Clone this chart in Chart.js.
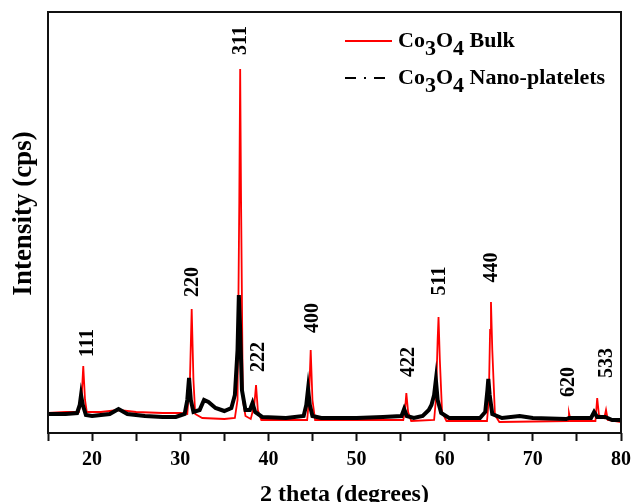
<!DOCTYPE html>
<html>
<head>
<meta charset="utf-8">
<script src="https://cdn.jsdelivr.net/npm/chart.js@4.4.1/dist/chart.umd.min.js"></script>
<style>
  html, body { margin: 0; padding: 0; background: #ffffff; }
  #wrap { width: 632px; height: 502px; position: relative; }
</style>
</head>
<body>
<div id="wrap"><canvas id="c" width="632" height="502"></canvas></div>
<script>
// ---- data (2 theta in degrees, intensity in arbitrary cps units) ----
const bulkTheta = [15, 17, 18.5, 18.8, 19.0, 19.2, 19.4, 21, 23, 25, 28, 30, 30.8, 31.1, 31.3, 31.5, 31.7, 32.5, 35, 36.2, 36.5, 36.7, 36.8, 36.9, 37.1, 37.4, 38, 38.4, 38.6, 38.8, 39.2, 44.4, 44.6, 44.8, 45.0, 45.3, 55.3, 55.5, 55.65, 55.85, 56.2, 58.8, 59.0, 59.2, 59.3, 59.45, 59.7, 60.2, 64.8, 65.0, 65.15, 65.25, 65.4, 65.7, 66.2, 74.0, 74.1, 74.3, 77.1, 77.3, 77.5, 78.1, 78.3, 78.5, 80];
const bulkCps   = [200, 210, 210, 330, 670, 330, 210, 210, 230, 210, 200, 200, 190, 530, 1240, 530, 190, 150, 140, 150, 330, 2330, 3640, 2330, 330, 170, 140, 280, 480, 230, 130, 130, 330, 830, 330, 130, 130, 230, 400, 210, 120, 130, 330, 930, 1160, 730, 210, 120, 120, 330, 1030, 1310, 830, 180, 110, 120, 200, 120, 120, 350, 180, 150, 230, 130, 110];

const nanoTheta = [15, 17, 18.3, 18.6, 18.75, 18.95, 19.3, 20, 22, 23.0, 24, 26, 28, 29.5, 30.5, 30.8, 31.0, 31.2, 31.5, 32.2, 32.7, 33.2, 34, 35, 35.8, 36.2, 36.5, 36.65, 36.8, 37.0, 37.4, 37.9, 38.2, 38.5, 39.3, 42, 44.0, 44.3, 44.5, 44.7, 45.0, 46, 50, 53, 55.1, 55.4, 55.7, 56.5, 57.5, 58.2, 58.5, 58.8, 59.0, 59.2, 59.6, 60.5, 64.0, 64.6, 64.85, 64.95, 65.1, 65.4, 66.5, 68.5, 70, 73.8, 74.1, 76.6, 76.95, 77.3, 78.2, 79, 80];
const nanoCps   = [190, 190, 200, 280, 380, 280, 180, 170, 190, 240, 190, 170, 160, 160, 190, 330, 550, 330, 210, 230, 330, 310, 250, 220, 250, 380, 830, 1380, 1030, 430, 230, 230, 300, 210, 160, 150, 170, 280, 440, 280, 170, 150, 150, 160, 170, 240, 170, 150, 170, 230, 280, 380, 530, 330, 200, 150, 150, 210, 430, 540, 380, 190, 150, 170, 150, 140, 150, 150, 210, 160, 160, 130, 130];

const seriesNames = ['Bulk', 'Nano-platelets'];

// Miller indices and where their labels sit (2 theta, intensity)
const peakLabels = ['111', '220', '311', '222', '400', '422', '511', '440', '620', '533'];
const peakLabelTheta = [19.48, 31.45, 36.85, 38.94, 45.06, 55.95, 59.47, 65.33, 74.10, 78.41];
const peakLabelCps   = [900, 1510, 3925, 760, 1150, 710, 1520, 1655, 510, 700];

const xTicksMajor = [20, 30, 40, 50, 60, 70, 80];

const SERIF = '"Liberation Serif", "Times New Roman", Times, serif';

function toPoints(xs, ys) { return xs.map((x, i) => ({ x: x, y: ys[i] })); }

const decorPlugin = {
  id: 'decor',
  afterDraw(chart) {
    const ctx = chart.ctx;
    const a = chart.chartArea;
    const xs = chart.scales.x, ys = chart.scales.y;
    ctx.save();
    // frame
    ctx.strokeStyle = '#111';
    ctx.lineWidth = 2;
    ctx.strokeRect(a.left, a.top, a.right - a.left, a.bottom - a.top);

    // peak labels
    ctx.fillStyle = '#000';
    ctx.font = 'bold 20px ' + SERIF;
    ctx.textAlign = 'center';
    ctx.textBaseline = 'middle';
    peakLabels.forEach((t, i) => {
      const px = xs.getPixelForValue(peakLabelTheta[i]);
      const py = ys.getPixelForValue(peakLabelCps[i]);
      ctx.save();
      ctx.translate(px, py);
      ctx.rotate(-Math.PI / 2);
      ctx.fillText(t, 0, 0);
      ctx.restore();
    });

    // axis titles
    ctx.font = 'bold 24px ' + SERIF;
    ctx.textAlign = 'center';
    ctx.textBaseline = 'alphabetic';
    ctx.fillText('2 theta (degrees)', (a.left + a.right) / 2 + 10, 501);
    ctx.save();
    ctx.font = 'bold 27px ' + SERIF;
    ctx.translate(30.5, (a.top + a.bottom) / 2 - 9);
    ctx.rotate(-Math.PI / 2);
    ctx.fillText('Intensity (cps)', 0, 0);
    ctx.restore();

    // legend
    const rows = [
      { name: seriesNames[0], color: '#ff0000', dash: [], lineY: 41, base: 47 },
      { name: seriesNames[1], color: '#000000', dash: [11, 8, 2, 8], lineY: 78, base: 84 }
    ];
    rows.forEach(r => {
      ctx.save();
      ctx.strokeStyle = r.color;
      ctx.lineWidth = 2;
      ctx.setLineDash(r.dash);
      ctx.beginPath();
      ctx.moveTo(345, r.lineY);
      ctx.lineTo(392, r.lineY);
      ctx.stroke();
      ctx.restore();
      ctx.fillStyle = '#000';
      ctx.font = 'bold 22px ' + SERIF;
      ctx.textAlign = 'left';
      ctx.textBaseline = 'alphabetic';
      let x = 398;
      const parts = [['Co', 0], ['3', 8], ['O', 0], ['4', 8], [' ' + r.name, 0]];
      parts.forEach(p => {
        ctx.fillText(p[0], x, r.base + p[1]);
        x += ctx.measureText(p[0]).width;
      });
    });
    ctx.restore();
  }
};

new Chart(document.getElementById('c'), {
  type: 'line',
  data: {
    datasets: [
      {
        label: 'Co3O4 ' + seriesNames[0],
        data: toPoints(bulkTheta, bulkCps),
        borderColor: '#ff0000',
        borderWidth: 1.8,
        pointRadius: 0,
        tension: 0,
        order: 2
      },
      {
        label: 'Co3O4 ' + seriesNames[1],
        data: toPoints(nanoTheta, nanoCps),
        borderColor: '#000000',
        borderWidth: 4,
        pointRadius: 0,
        tension: 0,
        order: 1
      }
    ]
  },
  options: {
    responsive: false,
    animation: false,
    events: [],
    layout: { padding: { top: 12, right: 11, left: 0, bottom: 0 } },
    plugins: { legend: { display: false }, tooltip: { enabled: false } },
    scales: {
      x: {
        type: 'linear',
        min: 15, max: 80,
        border: { display: false },
        grid: { display: true, drawOnChartArea: false, drawTicks: true, tickLength: 8, tickWidth: 2, tickColor: '#111' },
        ticks: {
          stepSize: 5,
          autoSkip: false,
          maxRotation: 0,
          padding: 7,
          color: '#000',
          font: { family: SERIF, size: 20, weight: 'bold' },
          callback: (v) => xTicksMajor.includes(v) ? String(v) : ''
        },
        afterFit: (s) => { s.height = 69; s.paddingLeft = 0; s.paddingRight = 0; }
      },
      y: {
        type: 'linear',
        min: 0, max: 4210,
        border: { display: false },
        grid: { display: false },
        ticks: { display: false },
        afterFit: (s) => { s.width = 48; s.paddingTop = 0; s.paddingBottom = 0; }
      }
    }
  },
  plugins: [decorPlugin]
});
</script>
</body>
</html>
